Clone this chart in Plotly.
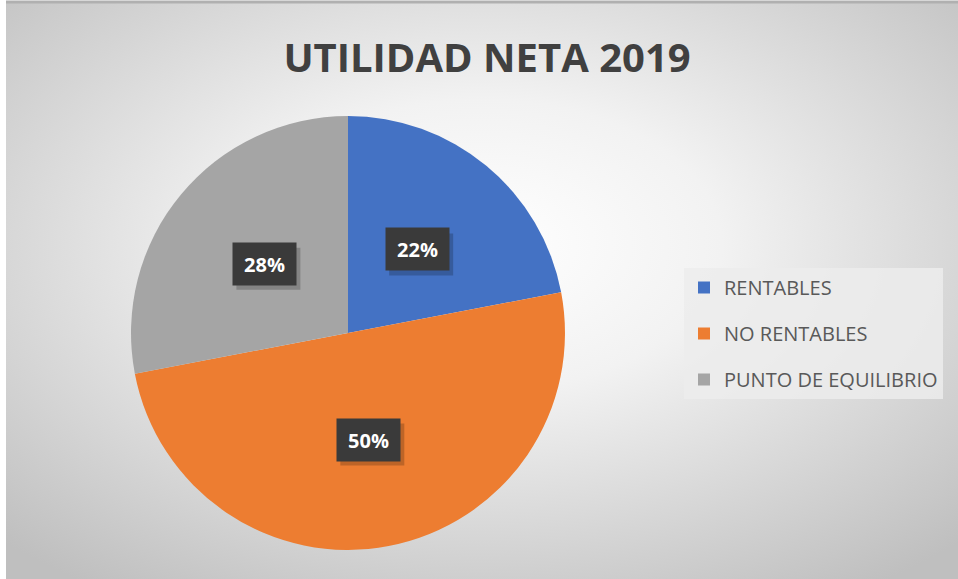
import base64
import math

import plotly.graph_objects as go

# data
categories = ["RENTABLES", "NO RENTABLES", "PUNTO DE EQUILIBRIO"]
values = [22, 50, 28]
colors = ["#4472C4", "#ED7D31", "#A5A5A5"]

W, H = 958, 579
cx, cy, R = 348, 333, 217  # pie centre / radius in px

# radial gradient background (Excel style)
svg = (
    f'<svg xmlns="http://www.w3.org/2000/svg" width="{W}" height="{H}">'
    '<defs><radialGradient id="g" cx="50%" cy="42%" r="72%">'
    '<stop offset="0%" stop-color="#ffffff"/>'
    '<stop offset="35%" stop-color="#f2f2f2"/>'
    '<stop offset="100%" stop-color="#bfbfbf"/>'
    '</radialGradient></defs>'
    f'<rect width="{W}" height="{H}" fill="url(#g)"/></svg>'
)
bg_src = "data:image/svg+xml;base64," + base64.b64encode(svg.encode()).decode()

fig = go.Figure()

fig.add_trace(go.Pie(
    labels=categories,
    values=values,
    marker=dict(colors=colors, line=dict(width=0)),
    sort=False,
    direction="clockwise",
    rotation=0,
    textinfo="none",
    hoverinfo="label+percent",
    showlegend=False,
    domain=dict(x=[(cx - R) / W, (cx + R) / W], y=[1 - (cy + R) / H, 1 - (cy - R) / H]),
))

# legend entries (one group each so spacing can be widened)
for name, col in zip(categories, colors):
    fig.add_trace(go.Scatter(
        x=[None], y=[None], mode="markers", name=name,
        legendgroup=name,
        marker=dict(symbol="square", size=11, color=col),
    ))

shapes = [dict(
    type="line", xref="paper", yref="paper", x0=6 / W, y0=1 - 2 / H, x1=1, y1=1 - 2 / H,
    line=dict(color="#b0b0b0", width=3),
)]

# data labels in dark boxes, placed at mid-angle of each slice
total = sum(values)
start = 0.0
bw, bh = 64, 42  # label box size, px
for v in values:
    mid = (start + v / 2) / total * 2 * math.pi
    start += v
    r = 0.5 * R
    px = cx + r * math.sin(mid)
    py = cy - r * math.cos(mid)
    # soft drop shadow behind the box
    shapes.append(dict(
        type="rect", xref="paper", yref="paper", layer="above",
        x0=(px - bw / 2 + 4) / W, x1=(px + bw / 2 + 4) / W,
        y0=1 - (py + bh / 2 + 5) / H, y1=1 - (py - bh / 2 + 5) / H,
        fillcolor="rgba(0,0,0,0.2)", line=dict(width=0),
    ))
    fig.add_annotation(
        x=px / W, y=1 - py / H, xref="paper", yref="paper",
        xanchor="center", yanchor="middle", showarrow=False,
        width=bw - 17, height=bh - 16, borderpad=8,
        text=f"<b>{round(v / total * 100)}%</b>",
        font=dict(size=20, color="white", family="Open Sans"),
        bgcolor="#3a3a3a",
    )

fig.update_layout(
    width=W, height=H,
    margin=dict(l=0, r=0, t=0, b=0),
    paper_bgcolor="#ffffff",
    plot_bgcolor="rgba(0,0,0,0)",
    title=dict(
        text="<b>UTILIDAD NETA 2019</b>",
        x=487 / W, xanchor="center", y=1 - 58 / H, yanchor="middle",
        font=dict(size=40, color="#404040", family="Open Sans"),
    ),
    xaxis=dict(visible=False),
    yaxis=dict(visible=False),
    legend=dict(
        x=684 / W, y=1 - 268 / H, xanchor="left", yanchor="top",
        bgcolor="rgba(236,236,236,0.85)",
        font=dict(size=20, color="#595959", family="Open Sans"),
        tracegroupgap=17,
        itemwidth=30,
        itemsizing="constant",
    ),
    images=[dict(
        source=bg_src, xref="paper", yref="paper", x=6 / W, y=1 - 3 / H,
        sizex=1 - 6 / W, sizey=1 - 3 / H, xanchor="left", yanchor="top",
        sizing="stretch", layer="below",
    )],
    shapes=shapes,
)

fig.write_html("out.html", config={"displayModeBar": False},
               post_script="document.body.style.margin='0';")
